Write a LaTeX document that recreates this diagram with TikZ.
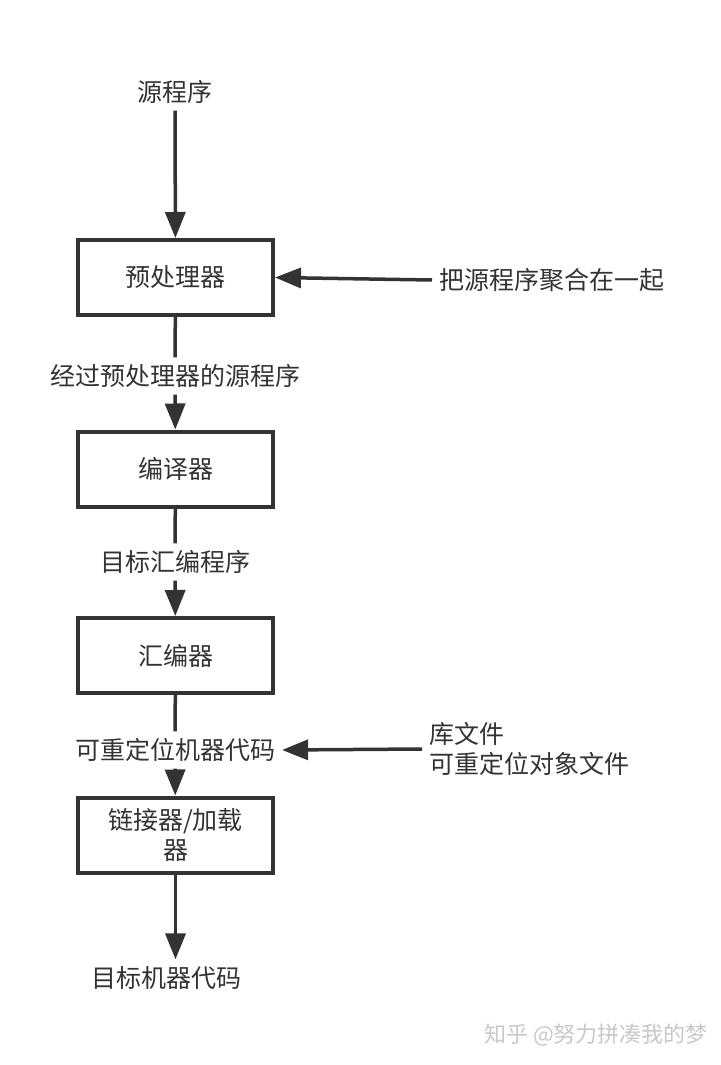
\documentclass[tikz,border=0pt]{standalone}
\usepackage{xcolor}
\usepackage{fontspec}
\usepackage{tikz}
\usetikzlibrary{arrows.meta, positioning}
\setmainfont{Noto Sans CJK SC}
\definecolor{flowDark}{RGB}{51,51,51}
\definecolor{flowMark}{RGB}{200,200,200}

\begin{document}
\begin{tikzpicture}[x=0.5pt, y=-0.5pt,
    every node/.style={font=\fontsize{12.5pt}{15pt}\selectfont, text=flowDark},
    stagebox/.style={draw=flowDark, line width=2pt, minimum width=97.5pt, minimum height=37.5pt, align=center},
    flowline/.style={draw=flowDark, line width=1.75pt},
    flowarrow/.style={flowline, -{Triangle[length=13pt, width=10pt]}}]
    % page frame, pixels with y going down
    \useasboundingbox (0,0) rectangle (720,1065);
    % stages
    \node (src) at (175,92) {源程序};
    \node[stagebox] (pre) at (175.5,277.5) {预处理器};
    \node (preout) at (175,376) {经过预处理器的源程序};
    \node[stagebox] (cc) at (175.5,469) {编译器};
    \node (asmsrc) at (175,562) {目标汇编程序};
    \node[stagebox] (as) at (175.5,655.5) {汇编器};
    \node (reloc) at (175,750) {可重定位机器代码};
    \node[stagebox] (ld) at (175.5,835) {链接器/加载\\器};
    \node (exe) at (166,978) {目标机器代码};
    % side inputs
    \node[anchor=west] (merge) at (432,280) {把源程序聚合在一起};
    \node[anchor=west, align=left] (lib) at (422,749) {库文件\\可重定位对象文件};
    % connectors
    \draw[flowarrow] (src) -- (pre);
    \draw[flowline] (pre) -- (preout);
    \draw[flowarrow] (preout) -- (cc);
    \draw[flowline] (cc) -- (asmsrc);
    \draw[flowarrow] (asmsrc) -- (as);
    \draw[flowline] (as) -- (reloc);
    \draw[flowarrow] (reloc) -- (ld);
    \draw[flowarrow] (ld.south) -- (ld.south |- exe.north);
    \draw[flowarrow] (merge.west) -- (pre.east);
    \draw[flowarrow] (lib.west) -- (reloc.east);
    % watermark
    \node[text=flowMark, font=\fontsize{11pt}{13pt}\selectfont] (mark) at (596,1035) {知乎 @努力拼凑我的梦};
\end{tikzpicture}
\end{document}
